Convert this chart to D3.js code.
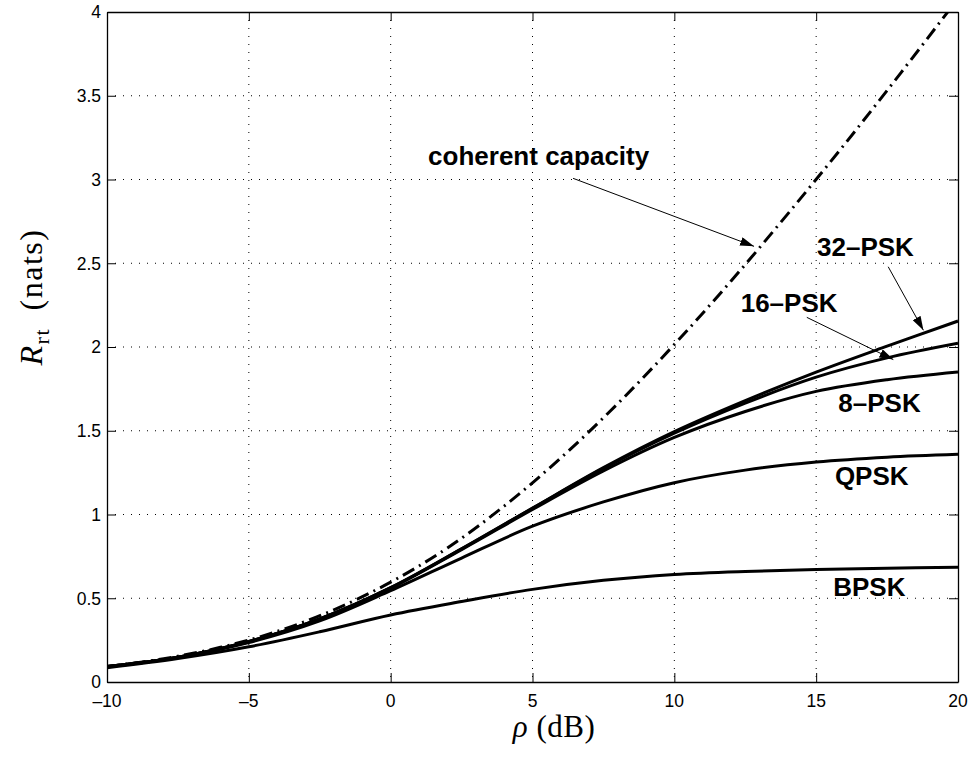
<!DOCTYPE html>
<html>
<head>
<meta charset="utf-8">
<script src="https://cdn.jsdelivr.net/npm/d3@7"></script>
<style>
  html, body { margin: 0; padding: 0; background: #fff; }
  svg { display: block; }
  .tick-label { font-family: "Liberation Sans", Arial, sans-serif; font-size: 17.5px; fill: #000; }
  .curve-label { font-family: "Liberation Sans", Arial, sans-serif; font-size: 26px; font-weight: bold; fill: #000; }
  .axis-title { font-family: "Liberation Serif", "Times New Roman", serif; fill: #000; }
</style>
</head>
<body>
<svg id="chart" width="974" height="762"></svg>
<script>
// SNR grid (dB) for the coherent capacity curve
const snrCoherent = [-10, -8, -6, -4, -2, 0, 2, 4, 6, 8, 10, 12, 14, 16, 18, 20];
const coherentCapacity = [0.092, 0.139, 0.207, 0.302, 0.431, 0.596, 0.80, 1.05, 1.338, 1.661, 2.015, 2.394, 2.795, 3.21, 3.64, 4.08];

// SNR grid (dB) for the PSK rate curves
const snrPsk = [-10, -7.5, -5, -2.5, 0, 2.5, 5, 7.5, 10, 12.5, 15, 17.5, 20];
const rateBpsk  = [0.085, 0.140, 0.210, 0.300, 0.400, 0.480, 0.553, 0.607, 0.642, 0.660, 0.671, 0.679, 0.685];
const rateQpsk  = [0.090, 0.147, 0.236, 0.365, 0.545, 0.740, 0.930, 1.075, 1.190, 1.265, 1.313, 1.342, 1.359];
const rate8psk  = [0.092, 0.148, 0.241, 0.375, 0.560, 0.790, 1.030, 1.260, 1.460, 1.615, 1.735, 1.805, 1.851];
const rate16psk = [0.092, 0.148, 0.242, 0.377, 0.563, 0.795, 1.037, 1.275, 1.485, 1.665, 1.820, 1.935, 2.022];
const rate32psk = [0.092, 0.148, 0.242, 0.377, 0.563, 0.795, 1.038, 1.280, 1.495, 1.680, 1.850, 2.005, 2.155];

// Axis ticks
const xTicks = [-10, -5, 0, 5, 10, 15, 20];
const yTicks = [0, 0.5, 1, 1.5, 2, 2.5, 3, 3.5, 4];

// Curve labels: [text, snr, rate]
const curveLabels = [
  ["coherent capacity", 1.32, 3.087],
  ["32\u2013PSK", 15.03, 2.543],
  ["16\u2013PSK", 12.34, 2.211],
  ["8\u2013PSK", 15.78, 1.614],
  ["QPSK", 15.66, 1.176],
  ["BPSK", 15.60, 0.515]
];

// Annotation arrows: [fromSnr, fromRate, toSnr, toRate]
const arrows = [
  [6.43, 3.007, 12.81, 2.601],
  [17.54, 2.479, 18.78, 2.100],
  [14.67, 2.177, 17.72, 1.925]
];

const svg = d3.select("#chart");
const plotLeft = 107, plotRight = 958, plotTop = 12, plotBottom = 682;

const x = d3.scaleLinear().domain([-10, 20]).range([plotLeft, plotRight]);
const y = d3.scaleLinear().domain([0, 4]).range([plotBottom, plotTop]);

const defs = svg.append("defs");
// clip region for the plot box
defs.append("clipPath").attr("id", "plotClip")
  .append("rect").attr("x", plotLeft).attr("y", plotTop)
  .attr("width", plotRight - plotLeft).attr("height", plotBottom - plotTop);

// arrowhead marker
defs.append("marker")
  .attr("id", "arrowHead")
  .attr("markerUnits", "userSpaceOnUse")
  .attr("viewBox", "0 0 14 9")
  .attr("refX", 14).attr("refY", 4.5)
  .attr("markerWidth", 14).attr("markerHeight", 9)
  .attr("orient", "auto")
  .append("path").attr("d", "M0,0 L14,4.5 L0,9 Z").attr("fill", "#000");

// dotted grid
const grid = svg.append("g");
grid.selectAll("line.gx").data(xTicks.slice(1, -1)).join("line").attr("class", "gx")
  .attr("x1", d => x(d)).attr("x2", d => x(d))
  .attr("y1", plotTop).attr("y2", plotBottom)
  .attr("stroke", "#000").attr("stroke-width", 1).attr("stroke-dasharray", "1,7");
grid.selectAll("line.gy").data(yTicks.slice(1, -1)).join("line").attr("class", "gy")
  .attr("y1", d => y(d)).attr("y2", d => y(d))
  .attr("x1", plotLeft).attr("x2", plotRight)
  .attr("stroke", "#000").attr("stroke-width", 1).attr("stroke-dasharray", "1,7");

// axes (ticks pointing inward, mirrored on top and right)
const tickLen = 9;
const axB = svg.append("g").attr("transform", `translate(0,${plotBottom})`)
  .call(d3.axisBottom(x).tickValues(xTicks).tickSize(-tickLen).tickSizeOuter(0).tickFormat(""));
const axT = svg.append("g").attr("transform", `translate(0,${plotTop})`)
  .call(d3.axisTop(x).tickValues(xTicks).tickSize(-tickLen).tickSizeOuter(0).tickFormat(""));
const axL = svg.append("g").attr("transform", `translate(${plotLeft},0)`)
  .call(d3.axisLeft(y).tickValues(yTicks).tickSize(-tickLen).tickSizeOuter(0).tickFormat(""));
const axR = svg.append("g").attr("transform", `translate(${plotRight},0)`)
  .call(d3.axisRight(y).tickValues(yTicks).tickSize(-tickLen).tickSizeOuter(0).tickFormat(""));
[axB, axT, axL, axR].forEach(g => {
  g.select(".domain").attr("stroke", "#000").attr("stroke-width", 1.3);
  g.selectAll(".tick line").attr("stroke", "#000").attr("stroke-width", 1);
});

// tick labels
const fmt = d => (d < 0 ? "\u2013" + Math.abs(d) : String(d));
svg.append("g").selectAll("text").data(xTicks).join("text")
  .attr("class", "tick-label")
  .attr("x", d => x(d)).attr("y", plotBottom + 24.5)
  .attr("text-anchor", "middle")
  .text(fmt);
svg.append("g").selectAll("text").data(yTicks).join("text")
  .attr("class", "tick-label")
  .attr("x", plotLeft - 6).attr("y", d => y(d))
  .attr("dy", "0.36em")
  .attr("text-anchor", "end")
  .text(d => String(d));

// curves
const plot = svg.append("g").attr("clip-path", "url(#plotClip)");
const line = d3.line().x(d => x(d[0])).y(d => y(d[1])).curve(d3.curveCatmullRom.alpha(0.5));

[rateBpsk, rateQpsk, rate8psk, rate16psk, rate32psk].forEach(vals => {
  plot.append("path")
    .datum(snrPsk.map((s, i) => [s, vals[i]]))
    .attr("d", line)
    .attr("fill", "none").attr("stroke", "#000").attr("stroke-width", 3)
    .attr("stroke-linejoin", "round");
});

plot.append("path")
  .datum(snrCoherent.map((s, i) => [s, coherentCapacity[i]]))
  .attr("d", line)
  .attr("fill", "none").attr("stroke", "#000").attr("stroke-width", 3)
  .attr("stroke-dasharray", "13,5.5,2,5.5");

// annotation arrows
svg.append("g").selectAll("line").data(arrows).join("line")
  .attr("x1", d => x(d[0])).attr("y1", d => y(d[1]))
  .attr("x2", d => x(d[2])).attr("y2", d => y(d[3]))
  .attr("stroke", "#000").attr("stroke-width", 1)
  .attr("marker-end", "url(#arrowHead)");

// curve labels
svg.append("g").selectAll("text").data(curveLabels).join("text")
  .attr("class", "curve-label")
  .attr("x", d => x(d[1])).attr("y", d => y(d[2]))
  .text(d => d[0]);

// axis titles
const xt = svg.append("text").attr("class", "axis-title")
  .attr("x", 554).attr("y", 737).attr("text-anchor", "middle")
  .attr("font-size", 31).attr("letter-spacing", 0.5);
xt.append("tspan").attr("font-style", "italic").text("\u03c1");
xt.append("tspan").text(" (dB)");

const yt = svg.append("text").attr("class", "axis-title")
  .attr("transform", "translate(42,297) rotate(-90)")
  .attr("text-anchor", "middle").attr("font-size", 32).attr("letter-spacing", 1.5);
yt.append("tspan").attr("font-style", "italic").text("R");
yt.append("tspan").attr("font-size", 22).attr("dy", 7).text("rt");
yt.append("tspan").attr("dy", -7).text("\u2002(nats)");
</script>
</body>
</html>
